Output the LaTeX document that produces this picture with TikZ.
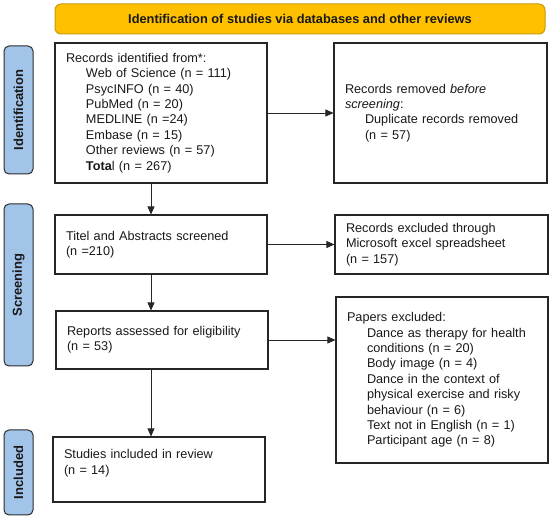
\documentclass[tikz,border=0pt]{standalone}
\usepackage{fontspec}
\setmainfont{Liberation Sans}
\usetikzlibrary{arrows.meta}
\definecolor{bannerfill}{HTML}{FFC000}
\definecolor{bannerdraw}{HTML}{C99A06}
\definecolor{labfill}{HTML}{A3C4E9}
\definecolor{labdraw}{HTML}{2B2B2B}
\newcommand\myind{\hspace*{20pt}}
\begin{document}
\begin{tikzpicture}[x=1pt,y=-1pt,
  every node/.style={font=\fontsize{12.7}{15.4}\selectfont, text=black!90},
  box/.style={draw=black!85, line width=1.1pt, rectangle, align=left, inner xsep=11pt, inner ysep=0pt},
  banner/.style={draw=bannerdraw, fill=bannerfill, line width=1pt, rounded corners=6pt, minimum width=490pt, minimum height=30pt, inner sep=0pt, font=\bfseries\fontsize{12.8}{15}\selectfont},
  sidelab/.style={draw=labdraw, fill=labfill, line width=1pt, rounded corners=5pt, rotate=90, minimum height=29pt, inner sep=0pt, font=\bfseries\fontsize{13}{15}\selectfont},
  arr/.style={draw=black!85, line width=0.7pt, -{Triangle[length=8pt,width=7pt]}}
]
\useasboundingbox (0,0) rectangle (550,518);

\node[banner] (banner) at (300,19) {Identification of studies via databases and other reviews};

\node[sidelab, minimum width=128pt] (lid) at (18.5,110) {Identification};
\node[sidelab, minimum width=162pt] (lsc) at (18.5,285) {Screening};
\node[sidelab, minimum width=85pt] (lin) at (18.5,472.5) {Included};

\node[box, text width=190pt, minimum height=140pt] (records) at (161,113) {Records identified from*:\\
\myind Web of Science (n = 111)\\
\myind PsycINFO (n = 40)\\
\myind PubMed (n = 20)\\
\myind MEDLINE (n =24)\\
\myind Embase (n = 15)\\
\myind Other reviews (n = 57)\\
\myind \textbf{Tota}l (n = 267)};

\node[box, text width=191pt, minimum height=140pt] (removed) at (440.5,113) {Records removed \textit{before}\\
\textit{screening}:\\
\myind Duplicate records removed\\
\myind (n = 57)};

\node[box, text width=190pt, minimum height=59pt] (titel) at (161,244.5) {Titel and Abstracts screened\\(n =210)};
\node[box, text width=191pt, minimum height=59pt] (excl) at (441.5,244.5) {Records excluded through\\Microsoft excel spreadsheet\\(n = 157)};

\node[box, text width=190pt, minimum height=58pt] (reports) at (162,340) {Reports assessed for eligibility\\(n = 53)};
\node[box, text width=190pt, minimum height=166pt] (papers) at (442,380) {Papers excluded:\\
\myind Dance as therapy for health\\
\myind conditions (n = 20)\\
\myind Body image (n = 4)\\
\myind Dance in the context of\\
\myind physical exercise and risky\\
\myind behaviour (n = 6)\\
\myind Text not in English (n = 1)\\
\myind Participant age (n = 8)};

\node[box, text width=190pt, minimum height=65pt] (studies) at (159,469.5) {Studies included in review\\(n = 14)\\\mbox{}};

\coordinate (vx) at (151,0);
\draw[arr] (records.south -| vx) -- (titel.north -| vx);
\draw[arr] (titel.south -| vx) -- (reports.north -| vx);
\draw[arr] (reports.south -| vx) -- (studies.north -| vx);
\draw[arr] (records.east) -- (removed.west);
\draw[arr] (titel.east) -- (excl.west);
\draw[arr] (reports.east) -- (reports.east -| papers.west);
\end{tikzpicture}
\end{document}
